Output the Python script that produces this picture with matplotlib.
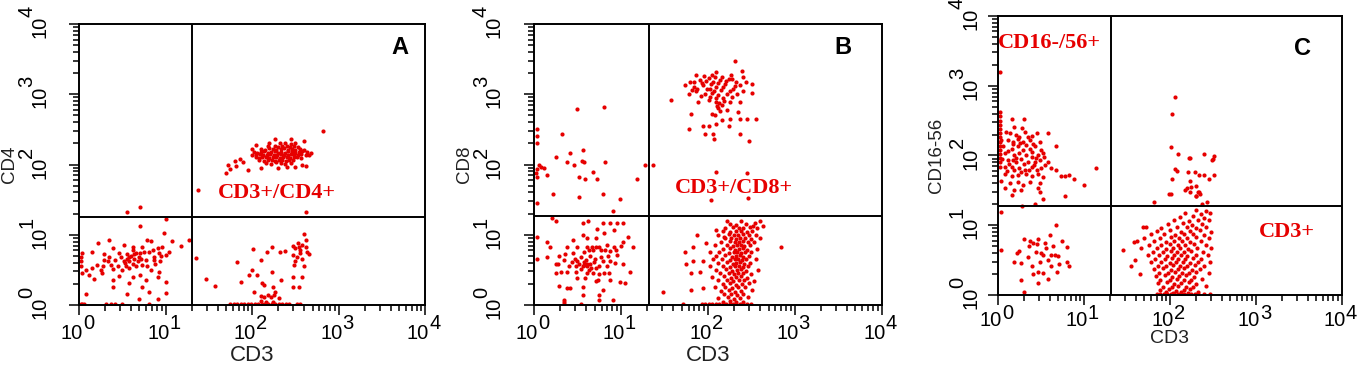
import numpy as np
import matplotlib
matplotlib.use("Agg")
import matplotlib.pyplot as plt
from matplotlib import transforms

plt.rcParams['font.family'] = ['Liberation Sans', 'DejaVu Sans']

# events, as (log10 CD3, log10 marker) in decades
# panel A: CD3 vs CD4
a_ll = [(1.01, 1.22), (0.71, 1.12), (0.98, 1.02), (0.35, 0.92), (0.79, 0.93), (0.83, 0.91), (1.08, 0.91),
        (1.27, 0.93), (0.22, 0.88), (0.52, 0.85), (0.62, 0.83), (0.73, 0.83), (0.91, 0.81), (0.96, 0.83),
        (1.18, 0.84), (0.39, 0.81), (0.15, 0.76), (0.29, 0.72), (0.46, 0.74), (0.56, 0.72), (0.66, 0.74),
        (0.75, 0.76), (0.81, 0.76), (0.92, 0.74), (1.00, 0.71), (0.04, 0.74), (0.35, 0.69), (0.58, 0.69),
        (0.64, 0.66), (0.69, 0.69), (0.87, 0.69), (1.04, 0.76), (0.29, 0.64), (0.42, 0.64), (0.52, 0.62),
        (0.58, 0.62), (0.62, 0.59), (0.77, 0.64), (0.87, 0.64), (0.94, 0.62), (0.21, 0.57), (0.37, 0.57),
        (0.54, 0.56), (0.66, 0.55), (0.73, 0.57), (0.79, 0.55), (0.08, 0.50), (0.15, 0.52), (0.25, 0.50),
        (0.39, 0.51), (0.50, 0.50), (0.58, 0.52), (0.83, 0.50), (0.92, 0.47), (0.04, 0.45), (0.12, 0.43),
        (0.27, 0.45), (0.46, 0.42), (0.62, 0.40), (0.71, 0.43), (0.91, 0.40), (0.17, 0.37), (0.39, 0.36),
        (0.77, 0.36), (1.00, 0.33), (0.58, 0.31), (0.39, 0.26), (0.73, 0.26), (0.08, 0.15), (0.56, 0.15),
        (0.81, 0.19), (1.00, 0.17), (0.69, 0.09), (0.91, 0.09), (0.60, 0.70), (0.64, 0.72), (0.68, 0.62),
        (0.55, 0.66), (0.70, 0.74), (0.48, 0.68), (0.53, 0.60), (0.72, 0.66), (0.45, 0.55), (0.85, 0.78),
        (0.88, 0.58), (0.62, 0.78), (0.34, 0.62), (0.28, 0.56), (0.95, 0.70), (0.02, 0.68), (0.02, 0.62),
        (0.02, 0.55), (0.04, 0.02), (0.06, 0.02), (0.31, 0.02), (0.37, 0.02), (0.42, 0.02), (0.50, 0.02),
        (0.81, 0.02), (0.02, 0.02)]
a_ul = [(0.55, 1.33), (0.71, 1.39)]
a_ur = [(2.32, 2.30), (2.38, 2.31), (2.45, 2.29), (2.50, 2.30),
        (2.18, 2.26), (2.26, 2.27), (2.30, 2.25), (2.35, 2.26), (2.40, 2.27), (2.44, 2.25), (2.48, 2.26),
        (2.53, 2.25), (2.10, 2.22), (2.15, 2.21), (2.20, 2.23), (2.24, 2.22), (2.28, 2.21), (2.33, 2.22),
        (2.37, 2.23), (2.41, 2.21), (2.46, 2.22), (2.50, 2.21), (2.55, 2.22), (2.60, 2.21),
        (2.02, 2.18), (2.06, 2.17), (2.10, 2.18), (2.14, 2.19), (2.18, 2.17), (2.22, 2.18), (2.26, 2.19),
        (2.30, 2.17), (2.34, 2.18), (2.38, 2.17), (2.42, 2.19), (2.46, 2.18), (2.50, 2.17), (2.54, 2.18),
        (2.58, 2.19), (2.63, 2.18), (2.68, 2.17), (2.00, 2.14), (2.05, 2.13), (2.09, 2.15), (2.13, 2.14),
        (2.17, 2.13), (2.21, 2.15), (2.25, 2.14), (2.29, 2.13), (2.33, 2.15), (2.37, 2.14), (2.41, 2.13),
        (2.45, 2.15), (2.49, 2.14), (2.53, 2.13), (2.57, 2.15), (2.62, 2.14), (2.66, 2.13),
        (2.04, 2.10), (2.08, 2.09), (2.12, 2.11), (2.16, 2.10), (2.20, 2.09), (2.24, 2.11), (2.28, 2.10),
        (2.32, 2.09), (2.36, 2.11), (2.40, 2.10), (2.44, 2.09), (2.48, 2.11), (2.52, 2.10), (2.57, 2.09),
        (2.08, 2.06), (2.14, 2.05), (2.19, 2.07), (2.23, 2.06), (2.27, 2.05), (2.31, 2.07), (2.35, 2.06),
        (2.39, 2.05), (2.43, 2.07), (2.47, 2.06), (2.16, 2.02), (2.22, 2.01), (2.28, 2.03), (2.33, 2.02),
        (2.38, 2.01), (2.45, 2.02), (2.05, 2.28), (2.26, 2.36), (2.45, 2.37), (2.60, 2.34), (2.82, 2.47),
        (2.58, 2.00), (2.40, 1.96), (2.30, 1.95), (2.50, 1.97), (2.62, 1.98), (2.10, 1.95), (1.82, 1.98),
        (1.75, 1.93), (1.70, 1.88), (1.90, 2.03), (1.86, 2.08), (1.95, 1.92), (1.80, 2.05), (1.72, 2.00),
        (1.38, 1.64), (2.62, 1.33), (2.00, 2.22), (2.20, 2.31)]
a_lr = [(1.35, 0.67), (1.47, 0.37), (1.57, 0.27), (1.83, 0.61), (1.87, 0.33), (1.97, 0.43), (2.00, 0.50),
        (2.01, 0.80), (2.06, 0.43), (2.10, 0.64), (2.11, 0.31), (2.14, 0.28), (2.17, 0.75), (2.23, 0.82),
        (2.23, 0.47), (2.32, 0.75), (2.33, 0.36), (2.38, 0.77), (2.02, 0.18), (2.10, 0.13), (2.14, 0.12),
        (2.18, 0.14), (2.22, 0.11), (2.25, 0.14), (2.27, 0.18), (2.31, 0.10), (2.24, 0.25), (2.10, 0.06),
        (2.16, 0.05), (2.24, 0.05), (2.47, 0.84), (2.50, 0.81), (2.54, 0.83), (2.58, 0.85), (2.62, 0.83),
        (2.64, 0.76), (2.55, 0.74), (2.47, 0.71), (2.52, 0.69), (2.58, 0.66), (2.66, 0.72), (2.50, 0.62),
        (2.49, 0.57), (2.60, 0.55), (2.62, 0.93), (2.60, 1.01), (2.47, 0.40), (2.58, 0.40), (2.47, 0.26),
        (2.54, 0.26), (2.56, 0.78), (2.53, 0.88), (1.75, 0.02), (1.79, 0.02), (1.83, 0.02), (1.87, 0.02),
        (1.91, 0.02), (1.95, 0.02), (1.99, 0.02), (2.03, 0.02), (2.07, 0.02), (2.11, 0.02), (2.15, 0.02),
        (2.19, 0.02), (2.23, 0.02), (2.27, 0.02), (2.31, 0.02), (2.35, 0.02), (2.39, 0.02), (2.43, 0.02),
        (2.52, 0.02), (2.56, 0.02)]

# panel B: CD3 vs CD8
b_ul = [(0.49, 2.79), (0.81, 2.82), (0.03, 2.51), (0.03, 2.40), (0.03, 2.30), (0.32, 2.44), (0.25, 2.10),
        (0.41, 2.17), (0.56, 2.20), (0.38, 2.03), (0.46, 2.00), (0.57, 2.03), (0.55, 2.05), (0.82, 2.03),
        (0.08, 1.97), (0.04, 1.93), (0.02, 1.88), (0.12, 1.95), (0.06, 1.99), (0.15, 1.85), (0.03, 1.82),
        (0.52, 1.82), (0.59, 1.79), (0.68, 1.89), (0.72, 1.79), (1.18, 1.79), (0.22, 1.58), (0.52, 1.54),
        (0.79, 1.58), (0.99, 1.51), (0.03, 1.45), (0.91, 1.34), (1.28, 2.00)]
b_ll = [(0.21, 1.24), (0.25, 1.20), (0.56, 1.17), (0.62, 1.20), (0.79, 1.17), (0.88, 1.17), (0.96, 1.17),
        (1.02, 1.17), (0.73, 1.08), (0.92, 1.07), (0.03, 0.97), (0.56, 0.99), (0.61, 0.96), (0.81, 1.02),
        (1.08, 0.97), (0.45, 0.93), (0.71, 0.95), (0.15, 0.89), (1.03, 0.90), (0.18, 0.83), (0.38, 0.83),
        (0.49, 0.83), (0.61, 0.83), (0.67, 0.83), (0.71, 0.82), (0.75, 0.83), (0.84, 0.85), (0.92, 0.83),
        (1.00, 0.84), (1.14, 0.83), (0.58, 0.76), (0.63, 0.78), (0.68, 0.79), (0.77, 0.78), (0.82, 0.79),
        (0.87, 0.77), (0.94, 0.78), (0.29, 0.70), (0.36, 0.73), (0.45, 0.74), (0.54, 0.69), (0.65, 0.70),
        (0.77, 0.69), (0.85, 0.70), (0.96, 0.71), (0.15, 0.69), (0.03, 0.66), (0.34, 0.64), (0.50, 0.62),
        (0.58, 0.61), (0.61, 0.58), (0.64, 0.59), (0.69, 0.61), (0.79, 0.62), (0.88, 0.62), (0.93, 0.60),
        (0.25, 0.58), (0.28, 0.58), (0.40, 0.55), (0.48, 0.56), (0.56, 0.56), (0.58, 0.57), (0.61, 0.55),
        (0.71, 0.52), (0.75, 0.55), (0.84, 0.55), (1.02, 0.59), (0.38, 0.47), (0.48, 0.47), (0.61, 0.45),
        (0.68, 0.46), (0.75, 0.44), (0.81, 0.46), (0.86, 0.45), (1.11, 0.47), (0.25, 0.45), (0.31, 0.47),
        (0.50, 0.38), (0.59, 0.38), (0.71, 0.34), (0.74, 0.35), (0.87, 0.36), (0.99, 0.33), (1.05, 0.31),
        (0.29, 0.27), (0.38, 0.24), (0.41, 0.24), (0.56, 0.26), (0.79, 0.21), (0.75, 0.14), (0.91, 0.07),
        (0.56, 0.14), (0.75, 0.07), (0.35, 0.07), (0.35, 0.04), (0.35, 0.02), (0.54, 0.02), (0.52, 0.58),
        (0.60, 0.64), (0.66, 0.53), (0.44, 0.61), (0.70, 0.66), (0.63, 0.50), (0.54, 0.51), (0.47, 0.66)]
b_ur = [(2.31, 3.48), (1.87, 3.27), (2.10, 3.32), (2.27, 3.27), (2.39, 3.33), (1.74, 3.13), (1.80, 3.18),
        (1.91, 3.20), (2.01, 3.23), (2.06, 3.18), (2.14, 3.21), (2.21, 3.19), (2.33, 3.18), (2.41, 3.25),
        (2.51, 3.15), (1.84, 3.11), (1.95, 3.13), (2.03, 3.08), (2.10, 3.11), (2.18, 3.11), (2.29, 3.08),
        (2.37, 3.13), (1.78, 3.01), (1.87, 3.04), (1.97, 3.01), (2.05, 3.02), (2.12, 2.99), (2.22, 3.01),
        (2.34, 3.01), (2.51, 3.02), (1.58, 2.92), (1.89, 2.89), (2.01, 2.92), (2.10, 2.89), (2.16, 2.85),
        (2.26, 2.89), (2.37, 2.89), (2.12, 2.80), (2.22, 2.78), (2.35, 2.75), (2.05, 2.72), (2.08, 2.70),
        (2.16, 2.63), (2.26, 2.65), (2.37, 2.65), (2.45, 2.65), (2.56, 2.65), (1.81, 2.72), (1.95, 2.55),
        (2.01, 2.55), (2.10, 2.58), (2.24, 2.55), (1.78, 2.50), (1.97, 2.44), (2.06, 2.43), (2.07, 2.37),
        (2.37, 2.44), (2.47, 2.34), (1.93, 3.16), (1.98, 3.19), (2.04, 3.14), (2.08, 3.24), (2.12, 3.16),
        (2.16, 3.25), (2.20, 3.15), (2.24, 3.22), (1.88, 3.08), (1.99, 3.07), (2.07, 3.05), (2.15, 3.06),
        (2.25, 3.05), (1.92, 2.97), (2.02, 2.96), (2.09, 2.94), (2.18, 2.95), (2.28, 2.96), (2.05, 3.28),
        (1.96, 3.26), (2.13, 2.88), (2.19, 2.90), (2.11, 2.83), (2.14, 2.76), (1.84, 3.18), (1.82, 3.06),
        (2.31, 3.12), (2.28, 3.22), (2.40, 3.04), (2.44, 3.18), (2.10, 1.90), (2.45, 1.88), (2.04, 1.49),
        (2.46, 1.52), (1.37, 1.99)]
b_lr = [(1.74, 0.76), (1.75, 0.59), (1.83, 0.83), (1.83, 0.62), (1.88, 1.00), (1.81, 0.45), (1.81, 0.21),
        (1.94, 0.62), (1.91, 0.47), (1.98, 0.88), (1.94, 0.24), (1.48, 0.18), (1.72, 0.02), (2.84, 0.83),
        (2.22, 1.20), (2.38, 1.20), (2.54, 1.17), (2.60, 1.20), (2.10, 1.07), (2.64, 1.12), (2.19, 0.97),
        (2.25, 1.15), (2.33, 1.14), (2.44, 1.16), (2.52, 1.13), (2.20, 1.10), (2.29, 1.11), (2.36, 1.09),
        (2.41, 1.10), (2.48, 1.11), (2.57, 1.09), (2.17, 1.05), (2.26, 1.04), (2.32, 1.06), (2.38, 1.05),
        (2.45, 1.04), (2.51, 1.06), (2.12, 1.00), (2.24, 1.01), (2.30, 0.99), (2.35, 1.00), (2.40, 1.01),
        (2.47, 0.99), (2.55, 1.00), (2.20, 0.95), (2.27, 0.96), (2.33, 0.94), (2.37, 0.95), (2.43, 0.96),
        (2.50, 0.94), (2.60, 0.95), (2.15, 0.90), (2.25, 0.91), (2.31, 0.89), (2.36, 0.90), (2.40, 0.91),
        (2.46, 0.89), (2.53, 0.90), (2.08, 0.85), (2.22, 0.86), (2.29, 0.84), (2.34, 0.85), (2.38, 0.86),
        (2.42, 0.84), (2.49, 0.85), (2.18, 0.80), (2.26, 0.81), (2.31, 0.79), (2.36, 0.80), (2.40, 0.81),
        (2.45, 0.79), (2.57, 0.80), (2.03, 0.75), (2.13, 0.76), (2.24, 0.74), (2.30, 0.75), (2.34, 0.76),
        (2.38, 0.74), (2.43, 0.75), (2.50, 0.76), (2.10, 0.70), (2.20, 0.71), (2.28, 0.69), (2.33, 0.70),
        (2.37, 0.71), (2.41, 0.69), (2.47, 0.70), (2.06, 0.65), (2.16, 0.66), (2.25, 0.64), (2.31, 0.65),
        (2.35, 0.66), (2.39, 0.64), (2.44, 0.65), (2.55, 0.66), (2.12, 0.60), (2.22, 0.61), (2.29, 0.59),
        (2.33, 0.60), (2.37, 0.61), (2.42, 0.59), (2.49, 0.60), (2.02, 0.55), (2.18, 0.56), (2.26, 0.54),
        (2.31, 0.55), (2.36, 0.56), (2.40, 0.54), (2.46, 0.55), (2.09, 0.50), (2.21, 0.51), (2.28, 0.49),
        (2.34, 0.50), (2.38, 0.51), (2.44, 0.49), (2.58, 0.50), (2.14, 0.45), (2.24, 0.46), (2.30, 0.44),
        (2.35, 0.45), (2.41, 0.46), (2.50, 0.44), (2.05, 0.40), (2.19, 0.41), (2.27, 0.39), (2.33, 0.40),
        (2.38, 0.41), (2.45, 0.39), (2.12, 0.35), (2.22, 0.36), (2.29, 0.34), (2.36, 0.35), (2.42, 0.36),
        (2.53, 0.34), (2.17, 0.30), (2.26, 0.31), (2.32, 0.29), (2.39, 0.30), (2.47, 0.31), (2.08, 0.25),
        (2.20, 0.26), (2.28, 0.24), (2.35, 0.25), (2.43, 0.26), (2.15, 0.20), (2.24, 0.21), (2.31, 0.19),
        (2.38, 0.20), (2.51, 0.21), (2.19, 0.15), (2.27, 0.16), (2.34, 0.14), (2.41, 0.15), (2.12, 0.10),
        (2.23, 0.11), (2.30, 0.09), (2.37, 0.10), (2.46, 0.11), (2.17, 0.05), (2.26, 0.06), (2.33, 0.04),
        (2.40, 0.05), (1.93, 0.02), (1.97, 0.02), (2.01, 0.02), (2.05, 0.02), (2.09, 0.02), (2.13, 0.02),
        (2.17, 0.02), (2.21, 0.02), (2.25, 0.02), (2.29, 0.02), (2.33, 0.02), (2.37, 0.02), (2.41, 0.02),
        (2.45, 0.02), (2.50, 0.02)]

# panel C: CD3 vs CD16/56
c_ul = [(0.16, 2.53), (0.30, 2.53), (0.19, 2.41), (0.28, 2.40), (0.09, 2.34), (0.14, 2.32), (0.21, 2.29),
        (0.31, 2.34), (0.39, 2.28), (0.45, 2.32), (0.58, 2.32), (0.12, 2.22), (0.17, 2.20), (0.23, 2.23),
        (0.29, 2.20), (0.37, 2.22), (0.41, 2.17), (0.49, 2.20), (0.67, 2.14), (0.06, 2.13), (0.16, 2.10),
        (0.23, 2.13), (0.29, 2.08), (0.37, 2.10), (0.43, 2.13), (0.50, 2.08), (0.08, 2.03), (0.19, 2.01),
        (0.25, 2.03), (0.33, 2.01), (0.39, 1.98), (0.46, 2.01), (0.54, 1.98), (0.12, 1.94), (0.21, 1.91),
        (0.27, 1.95), (0.35, 1.91), (0.43, 1.91), (0.49, 1.94), (0.58, 1.91), (0.08, 1.84), (0.16, 1.84),
        (0.19, 1.79), (0.24, 1.82), (0.31, 1.79), (0.39, 1.84), (0.45, 1.79), (0.50, 1.82), (0.62, 1.82),
        (0.67, 1.79), (0.08, 1.74), (0.16, 1.71), (0.23, 1.72), (0.33, 1.73), (0.39, 1.70), (0.47, 1.73),
        (0.52, 1.69), (0.73, 1.70), (0.78, 1.70), (0.83, 1.72), (0.89, 1.66), (0.04, 1.64), (0.14, 1.60),
        (0.23, 1.62), (0.29, 1.58), (0.37, 1.62), (0.49, 1.60), (1.00, 1.58), (0.08, 1.53), (0.19, 1.51),
        (0.27, 1.51), (0.46, 1.53), (0.49, 1.48), (0.16, 1.43), (0.52, 1.37), (0.78, 1.42), (0.28, 1.28),
        (0.43, 1.30), (1.14, 1.82), (0.12, 2.06), (0.18, 2.16), (0.26, 2.18), (0.33, 2.15), (0.21, 1.97),
        (0.30, 1.88), (0.13, 1.88), (0.40, 2.05), (0.44, 1.96), (0.36, 1.79), (0.27, 1.76), (0.10, 1.78),
        (0.52, 2.03), (0.55, 1.87), (0.05, 1.95), (0.04, 2.22), (0.35, 2.26), (0.24, 2.26), (0.42, 1.86),
        (0.17, 1.93), (0.02, 1.84), (0.02, 1.90), (0.02, 1.96), (0.02, 2.02), (0.02, 2.08), (0.02, 2.14),
        (0.02, 2.20), (0.02, 2.26), (0.02, 2.32), (0.02, 2.38), (0.02, 2.44), (0.02, 2.50), (0.02, 2.56),
        (0.02, 2.62), (0.02, 3.20)]
c_ll = [(0.03, 1.19), (0.03, 0.65), (0.67, 1.00), (0.30, 0.80), (0.37, 0.78), (0.41, 0.75), (0.45, 0.73),
        (0.47, 0.80), (0.22, 0.60), (0.24, 0.63), (0.27, 0.46), (0.50, 0.60), (0.52, 0.57), (0.56, 0.67),
        (0.60, 0.86), (0.66, 0.57), (0.70, 0.56), (0.74, 0.77), (0.80, 0.69), (0.80, 0.48), (0.83, 0.41),
        (0.49, 0.48), (0.41, 0.30), (0.47, 0.33), (0.52, 0.31), (0.62, 0.41), (0.69, 0.33), (0.27, 0.22),
        (0.47, 0.17), (0.30, 0.05), (0.62, 0.57), (0.58, 0.50), (0.36, 0.70), (0.44, 0.62), (0.55, 0.75),
        (0.64, 0.70), (0.35, 0.55), (0.71, 0.45), (0.40, 0.42), (0.58, 0.23), (0.19, 0.48)]
c_ur = [(2.06, 2.84), (2.03, 2.59), (2.01, 2.12), (2.09, 2.02), (2.22, 1.96), (2.23, 1.97), (2.40, 2.02),
        (2.49, 1.93), (2.50, 1.95), (2.51, 1.99), (2.06, 1.80), (2.08, 1.78), (2.21, 1.76), (2.29, 1.76),
        (2.34, 1.72), (2.40, 1.72), (2.46, 1.67), (2.51, 1.72), (2.03, 1.67), (2.23, 1.64), (2.18, 1.51),
        (2.20, 1.53), (2.25, 1.55), (2.31, 1.56), (2.33, 1.48), (2.34, 1.47), (2.24, 1.48), (2.01, 1.45),
        (2.30, 1.42), (2.31, 1.42), (2.35, 1.45), (2.43, 1.34), (1.82, 1.33), (2.37, 1.30), (1.99, 1.45)]
c_lr = [(1.45, 0.65), (1.58, 0.76), (1.69, 0.97), (1.60, 0.50), (1.65, 0.30), (1.55, 0.42),
        (2.30, 1.22), (2.42, 1.21), (2.18, 1.17), (2.36, 1.16), (2.47, 1.18), (2.12, 1.12), (2.27, 1.13),
        (2.40, 1.11), (2.05, 1.07), (2.22, 1.06), (2.33, 1.08), (2.45, 1.07), (1.98, 1.02), (2.15, 1.03),
        (2.26, 1.01), (2.37, 1.02), (1.72, 0.97), (1.90, 0.96), (2.08, 0.98), (2.20, 0.97), (2.30, 0.96),
        (2.42, 0.98), (1.85, 0.92), (2.00, 0.93), (2.13, 0.91), (2.24, 0.92), (2.35, 0.93), (2.48, 0.91),
        (1.78, 0.87), (1.93, 0.88), (2.06, 0.86), (2.17, 0.87), (2.27, 0.88), (2.40, 0.86), (1.70, 0.82),
        (1.88, 0.81), (2.01, 0.83), (2.11, 0.82), (2.20, 0.81), (2.31, 0.83), (2.45, 0.82), (1.62, 0.77),
        (1.82, 0.78), (1.95, 0.76), (2.05, 0.77), (2.14, 0.78), (2.24, 0.76), (2.36, 0.77), (1.76, 0.72),
        (1.90, 0.71), (2.00, 0.73), (2.09, 0.72), (2.18, 0.71), (2.28, 0.73), (2.42, 0.72), (1.67, 0.67),
        (1.85, 0.68), (1.96, 0.66), (2.04, 0.67), (2.12, 0.68), (2.21, 0.66), (2.32, 0.67), (2.48, 0.68),
        (1.80, 0.62), (1.92, 0.61), (2.01, 0.63), (2.08, 0.62), (2.16, 0.61), (2.25, 0.63), (2.38, 0.62),
        (1.74, 0.57), (1.87, 0.58), (1.97, 0.56), (2.05, 0.57), (2.13, 0.58), (2.20, 0.56), (2.30, 0.57),
        (2.44, 0.58), (1.83, 0.52), (1.94, 0.51), (2.03, 0.53), (2.10, 0.52), (2.18, 0.51), (2.27, 0.53),
        (2.36, 0.52), (1.78, 0.47), (1.90, 0.48), (2.00, 0.46), (2.07, 0.47), (2.15, 0.48), (2.23, 0.46),
        (2.33, 0.47), (2.47, 0.48), (1.86, 0.42), (1.96, 0.41), (2.04, 0.43), (2.12, 0.42), (2.20, 0.41),
        (2.29, 0.43), (2.40, 0.42), (1.81, 0.37), (1.92, 0.38), (2.01, 0.36), (2.09, 0.37), (2.17, 0.38),
        (2.26, 0.36), (2.35, 0.37), (1.87, 0.32), (1.98, 0.31), (2.06, 0.33), (2.14, 0.32), (2.22, 0.31),
        (2.31, 0.33), (2.45, 0.32), (1.84, 0.27), (1.94, 0.28), (2.03, 0.26), (2.11, 0.27), (2.19, 0.28),
        (2.28, 0.26), (1.89, 0.22), (2.00, 0.21), (2.08, 0.23), (2.16, 0.22), (2.25, 0.21), (2.37, 0.23),
        (1.86, 0.17), (1.97, 0.18), (2.05, 0.16), (2.13, 0.17), (2.22, 0.18), (2.31, 0.16), (1.92, 0.12),
        (2.02, 0.11), (2.10, 0.13), (2.19, 0.12), (2.27, 0.11), (2.42, 0.13), (1.88, 0.07), (1.99, 0.08),
        (2.07, 0.06), (2.16, 0.07), (2.24, 0.08), (1.95, 0.04), (2.04, 0.03), (2.13, 0.04), (2.21, 0.03),
        (2.33, 0.04), (1.85, 0.02), (1.89, 0.02), (1.93, 0.02), (1.97, 0.02), (2.01, 0.02), (2.05, 0.02),
        (2.09, 0.02), (2.13, 0.02), (2.17, 0.02), (2.21, 0.02), (2.25, 0.02), (2.29, 0.02), (2.33, 0.02),
        (2.40, 0.02), (2.47, 0.02)]

# quadrant gates (log10 CD3, log10 marker)
gates = [(1.31, 1.25), (1.32, 1.27), (1.31, 1.27)]
ylabels = ['CD4', 'CD8', 'CD16-56']
letters = ['A', 'B', 'C']
decades = [0, 1, 2, 3, 4]

RED = '#e60000'

fig = plt.figure(figsize=(13.58, 3.67), dpi=100)

rects = [[0.0582, 0.1689, 0.2548, 0.7657],
         [0.3932, 0.1689, 0.2560, 0.7657],
         [0.7349, 0.1962, 0.2531, 0.7602]]
events = [a_ll + a_ul + a_ur + a_lr, b_ul + b_ll + b_ur + b_lr, c_ul + c_ll + c_ur + c_lr]

# pixel offsets of the "10" and exponent parts of the decade labels, per panel
# (x-axis: "10" top, exponent top; y-axis: "10" right edge, exponent right edge)
lab_off = [(-19, -9, -30, -43), (-19, -9, -30, -43), (-16, -9, -17, -31)]


def decade_labels(ax, off):
    bx = transforms.blended_transform_factory(ax.transData, ax.transAxes)
    by = transforms.blended_transform_factory(ax.transAxes, ax.transData)
    x10, xexp, y10, yexp = off
    for d in decades:
        v = 10.0 ** d
        ax.text(v, 0, '10', fontsize=14.5, ha='right', va='top',
                transform=transforms.offset_copy(bx, x=4, y=x10, units='dots'))
        ax.text(v, 0, str(d), fontsize=14.5, ha='left', va='top',
                transform=transforms.offset_copy(bx, x=4, y=xexp, units='dots'))
        ax.text(0, v, '10', fontsize=14.5, ha='right', va='center', rotation=90,
                transform=transforms.offset_copy(by, x=y10, y=-3, units='dots'))
        ax.text(0, v, str(d), fontsize=14.5, ha='right', va='bottom', rotation=90,
                transform=transforms.offset_copy(by, x=yexp, y=7, units='dots'))


axes = []
for i in range(3):
    ax = fig.add_axes(rects[i])
    pts = np.array(events[i])
    ax.scatter(np.power(10, pts[:, 0]), np.power(10, pts[:, 1]), s=9, c=RED,
               linewidths=0, marker='o', zorder=2)
    ax.set_xscale('log')
    ax.set_yscale('log')
    ax.set_xlim(1, 1e4)
    ax.set_ylim(1, 1e4)
    gx, gy = gates[i]
    ax.axvline(10 ** gx, color='black', lw=1.4, zorder=3)
    ax.axhline(10 ** gy, color='black', lw=1.4, zorder=3)
    for sp in ax.spines.values():
        sp.set_linewidth(1.4)
    ax.tick_params(which='both', direction='out', labelbottom=False, labelleft=False,
                   top=False, right=False, width=1.1)
    ax.tick_params(which='major', length=7)
    ax.tick_params(which='minor', length=4)
    decade_labels(ax, lab_off[i])
    axes.append(ax)

# axis titles
xl_y = [-0.178, -0.178, -0.156]
xl_size = [16, 16, 14]
yl_x = [-0.20, -0.20, -0.178]
for i, ax in enumerate(axes):
    ax.text(0.5, xl_y[i], 'CD3', transform=ax.transAxes, ha='center', va='center',
            fontsize=xl_size[i], color='#222222')
    ax.text(yl_x[i], 0.5, ylabels[i], transform=ax.transAxes, ha='center', va='center',
            rotation=90, fontsize=13.5, color='#222222')

letter_pos = [(0.928, 0.915), (0.889, 0.915), (0.887, 0.885)]
for ax, lt, (lx, ly) in zip(axes, letters, letter_pos):
    ax.text(lx, ly, lt, transform=ax.transAxes, ha='center', va='center',
            fontsize=17, fontweight='bold', color='black')

serif = dict(family=['Liberation Serif', 'DejaVu Serif'], fontweight='bold', color=RED,
             fontsize=16, va='center', ha='left')
axes[0].text(0.402, 0.40, 'CD3+/CD4+', transform=axes[0].transAxes, **serif)
axes[1].text(0.406, 0.416, 'CD3+/CD8+', transform=axes[1].transAxes, **serif)
axes[2].text(0.0, 0.904, 'CD16-/56+', transform=axes[2].transAxes, **serif)
axes[2].text(0.76, 0.226, 'CD3+', transform=axes[2].transAxes, **serif)

fig.savefig('out.png', dpi=100)
